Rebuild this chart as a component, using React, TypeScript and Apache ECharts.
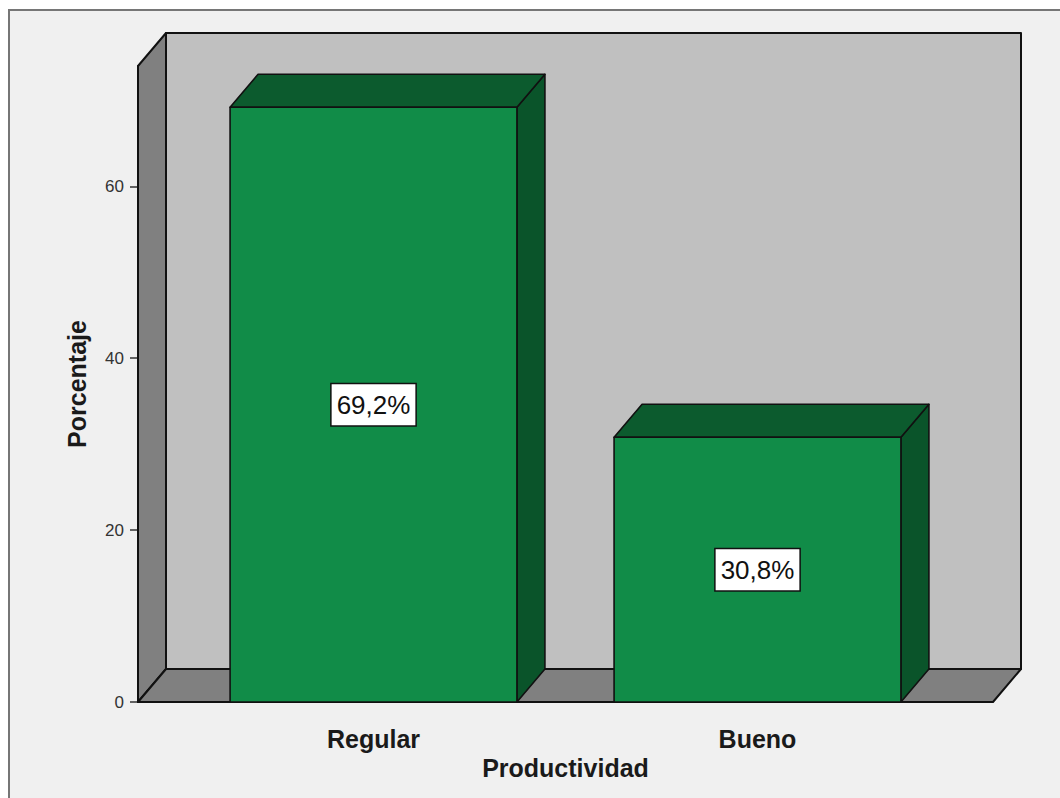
import React, { useEffect, useRef } from "react";
import * as echarts from "echarts";

// Frequencies of the "Productividad" variable, in percent
const categories = ["Regular", "Bueno"];
const percentages = [69.2, 30.8];
const yTickValues = [0, 20, 40, 60];
const yMax = 74;

const FONT = "'Liberation Sans', Arial, Helvetica, sans-serif";
// oblique depth of the 3D box (px)
const DEPTH_X = 28;
const DEPTH_Y = 33;
// the floor and left wall reach past the category band by this much
const SIDE_PAD = 43.5;
// front face width as a share of the category band
const BAR_RATIO = 0.747;

const EDGE = { stroke: "#111111", lineWidth: 1.6, lineJoin: "round" as const };

const formatPct = (v: number) => v.toFixed(1).replace(".", ",") + "%";

export default function App() {
  const ref = useRef<HTMLDivElement>(null);

  useEffect(() => {
    const chart = echarts.init(ref.current!, null, { renderer: "svg" });

    const renderWalls = (params: any, api: any) => {
      const cs = params.coordSys;
      const left = cs.x - SIDE_PAD;
      const right = cs.x + cs.width + SIDE_PAD;
      const base = api.coord([0, 0])[1];
      const top = api.coord([0, yMax])[1];
      return {
        type: "group",
        children: [
          {
            type: "rect",
            shape: {
              x: left + DEPTH_X,
              y: top - DEPTH_Y,
              width: right - left,
              height: base - top,
            },
            style: { fill: "#c0c0c0", ...EDGE, lineWidth: 2 },
          },
          {
            type: "polygon",
            shape: {
              points: [
                [left, base],
                [left, top],
                [left + DEPTH_X, top - DEPTH_Y],
                [left + DEPTH_X, base - DEPTH_Y],
              ],
            },
            style: { fill: "#808080", ...EDGE, lineWidth: 2 },
          },
          {
            type: "polygon",
            shape: {
              points: [
                [left, base],
                [right, base],
                [right + DEPTH_X, base - DEPTH_Y],
                [left + DEPTH_X, base - DEPTH_Y],
              ],
            },
            style: { fill: "#808080", ...EDGE, lineWidth: 2 },
          },
        ],
      };
    };

    const renderBar = (params: any, api: any) => {
      const idx = api.value(0);
      const val = api.value(1);
      const [cx, yTop] = api.coord([idx, val]);
      const yBase = api.coord([idx, 0])[1];
      const w = api.size([1, 0])[0] * BAR_RATIO;
      const x0 = cx - w / 2;
      const x1 = cx + w / 2;
      return {
        type: "group",
        children: [
          {
            type: "polygon",
            shape: {
              points: [
                [x1, yTop],
                [x1 + DEPTH_X, yTop - DEPTH_Y],
                [x1 + DEPTH_X, yBase - DEPTH_Y],
                [x1, yBase],
              ],
            },
            style: { fill: "#0a542a", ...EDGE },
          },
          {
            type: "polygon",
            shape: {
              points: [
                [x0, yTop],
                [x1, yTop],
                [x1 + DEPTH_X, yTop - DEPTH_Y],
                [x0 + DEPTH_X, yTop - DEPTH_Y],
              ],
            },
            style: { fill: "#0c5b2e", ...EDGE },
          },
          {
            type: "rect",
            shape: { x: x0, y: yTop, width: w, height: yBase - yTop },
            style: { fill: "#118c48", ...EDGE },
          },
          {
            type: "text",
            x: cx,
            y: (yTop + yBase) / 2,
            style: {
              text: formatPct(val),
              fontFamily: FONT,
              fontSize: 26,
              lineHeight: 33,
              fill: "#111111",
              align: "center",
              verticalAlign: "middle",
              backgroundColor: "#ffffff",
              borderColor: "#111111",
              borderWidth: 1.5,
              padding: [4, 5],
            },
          },
        ],
      };
    };

    chart.setOption({
      animation: false,
      backgroundColor: "#ffffff",
      textStyle: { fontFamily: FONT },
      graphic: [
        {
          type: "rect",
          z: -10,
          silent: true,
          shape: { x: 9, y: 10, width: 1100, height: 840 },
          style: { fill: "#f0f0f0", stroke: "#767676", lineWidth: 2 },
        },
      ],
      grid: { left: 181.5, right: 110.5, top: 66, bottom: 96 },
      xAxis: {
        type: "category",
        data: categories,
        axisLine: { show: false },
        axisTick: { show: false },
        axisLabel: {
          fontFamily: FONT,
          fontSize: 25,
          fontWeight: "bold",
          color: "#1a1a1a",
          margin: 24,
        },
        name: "Productividad",
        nameLocation: "middle",
        nameGap: 52,
        nameTextStyle: {
          fontFamily: FONT,
          fontSize: 25,
          fontWeight: "bold",
          color: "#1a1a1a",
        },
      },
      yAxis: {
        type: "value",
        min: 0,
        max: yMax,
        interval: 20,
        offset: SIDE_PAD,
        splitLine: { show: false },
        axisLine: { show: true, lineStyle: { color: "#111111", width: 2 } },
        axisTick: {
          show: true,
          length: 8,
          customValues: yTickValues,
          lineStyle: { color: "#333333", width: 1.5 },
        },
        axisLabel: {
          customValues: yTickValues,
          fontFamily: FONT,
          fontSize: 17,
          color: "#333333",
          margin: 14,
        },
        name: "Porcentaje",
        nameLocation: "middle",
        nameRotate: 90,
        nameGap: 49,
        nameTextStyle: {
          fontFamily: FONT,
          fontSize: 25,
          fontWeight: "bold",
          color: "#1a1a1a",
        },
      },
      series: [
        {
          type: "custom",
          z: 1,
          silent: true,
          renderItem: renderWalls,
          data: [[0, yMax]],
        },
        {
          type: "custom",
          z: 3,
          renderItem: renderBar,
          data: percentages.map((v, i) => [i, v]),
        },
      ],
    });

    return () => chart.dispose();
  }, []);

  return (
    <div
      ref={ref}
      style={{ position: "absolute", left: 0, top: 0, width: 1060, height: 798 }}
    />
  );
}
